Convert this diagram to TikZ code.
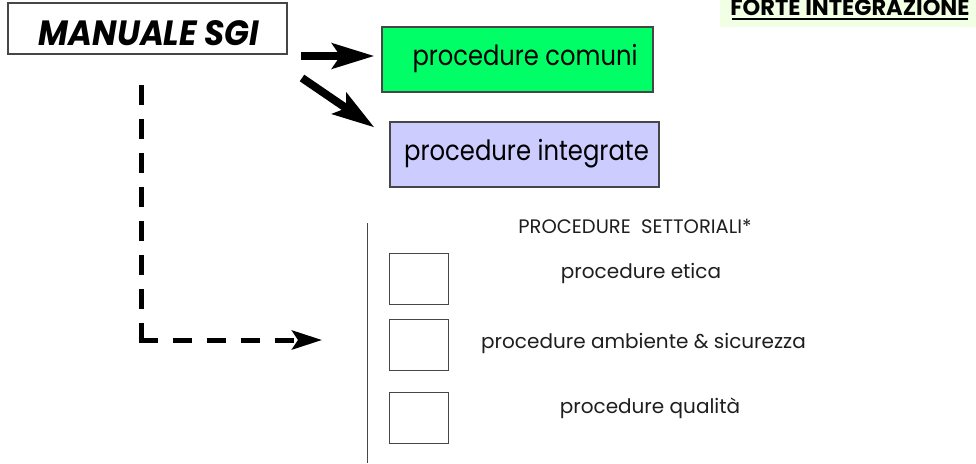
\documentclass[tikz,border=0pt]{standalone}
\usepackage{fontspec}
\setmainfont{Poppins}
\usetikzlibrary{arrows.meta,calc}
\definecolor{boxgreen}{RGB}{0,255,102}
\definecolor{boxblue}{RGB}{204,204,255}
\definecolor{palegreen}{RGB}{241,255,228}
\definecolor{edge}{RGB}{70,70,70}
\definecolor{txt}{RGB}{30,30,30}
\newcommand\fs[1]{\fontsize{#1}{#1}\selectfont}
\tikzset{
  framebox/.style={draw=edge, line width=1.2pt, inner sep=0pt},
  smallbox/.style={draw=edge, line width=1pt, minimum width=59pt, minimum height=51pt, inner sep=0pt},
  bigarrow/.style={line width=8pt, -{Stealth[length=42pt, width=25pt, inset=8pt]}},
  dashline/.style={line width=5pt, dash pattern=on 19.5pt off 14.5pt},
  dasharrow/.style={dashline, -{Stealth[length=30pt, width=19pt, inset=6pt]}},
  lbl/.style={inner sep=0pt, anchor=base, text=txt},
}
\begin{document}
\begin{tikzpicture}[x=1pt,y=-1pt]
\useasboundingbox (0,0) rectangle (976,463);
% manual box
\node[framebox, minimum width=279pt, minimum height=51pt] (man) at (147.5,28.5) {};
\node[lbl, text=black] (mantxt) at (149,45) {\scalebox{1}[1.08]{\fs{32.5}\bfseries\itshape MANUALE SGI}};
% green / blue boxes
\node[framebox, fill=boxgreen, minimum width=271pt, minimum height=65pt] (comuni) at (517.5,59.5) {};
\node[lbl, text=black] (comtxt) at (525,65) {\scalebox{1}[1.15]{\fs{24.2}procedure comuni}};
\node[framebox, fill=boxblue, minimum width=269pt, minimum height=65pt] (integ) at (524.5,154.5) {};
\node[lbl, text=black] (inttxt) at (526.5,160) {\scalebox{1}[1.15]{\fs{24.3}procedure integrate}};
% forte integrazione
\fill[palegreen] (720,0) rectangle (976,27);
\node[lbl, text=black] (forte) at (850,15) {\fs{22.5}\bfseries FORTE INTEGRAZIONE};
\draw[line width=2pt] (732,18.5) -- (968,18.5);
% arrows
\coordinate (a1s) at (301,56);
\coordinate (a2s) at (302,78);
\draw[bigarrow, shorten >=7pt] (a1s) -- (comuni.west |- a1s);
\draw[bigarrow] (a2s) -- ($(integ.north west)+(-15,6)$);
% dashed connector
\coordinate (ds) at (141,85);
\coordinate (dc) at (141,340);
\coordinate (de) at (322,340);
\draw[dashline] (ds) -- ($(dc)+(0,2.5)$);
\draw[dasharrow] ($(dc)+(-2.5,0)$) -- (de);
% vertical separator
\coordinate (vt) at (367,223);
\coordinate (vb) at (367,463);
\draw[line width=1pt, edge] (vt) -- (vb);
% sectoral boxes
\node[smallbox] (b1) at (418.5,278.5) {};
\node[smallbox] (b2) at (418.5,344.5) {};
\node[smallbox] (b3) at (418.5,417.5) {};
\node[lbl] (sett) at (635,233) {\fs{19.5}PROCEDURE\ \ SETTORIALI*};
\node[lbl] (t1) at (641,278) {\fs{20}procedure etica};
\node[lbl] (t2) at (643.5,348) {\fs{20}procedure ambiente \& sicurezza};
\node[lbl] (t3) at (650,413) {\fs{20}procedure qualità};
\end{tikzpicture}
\end{document}
